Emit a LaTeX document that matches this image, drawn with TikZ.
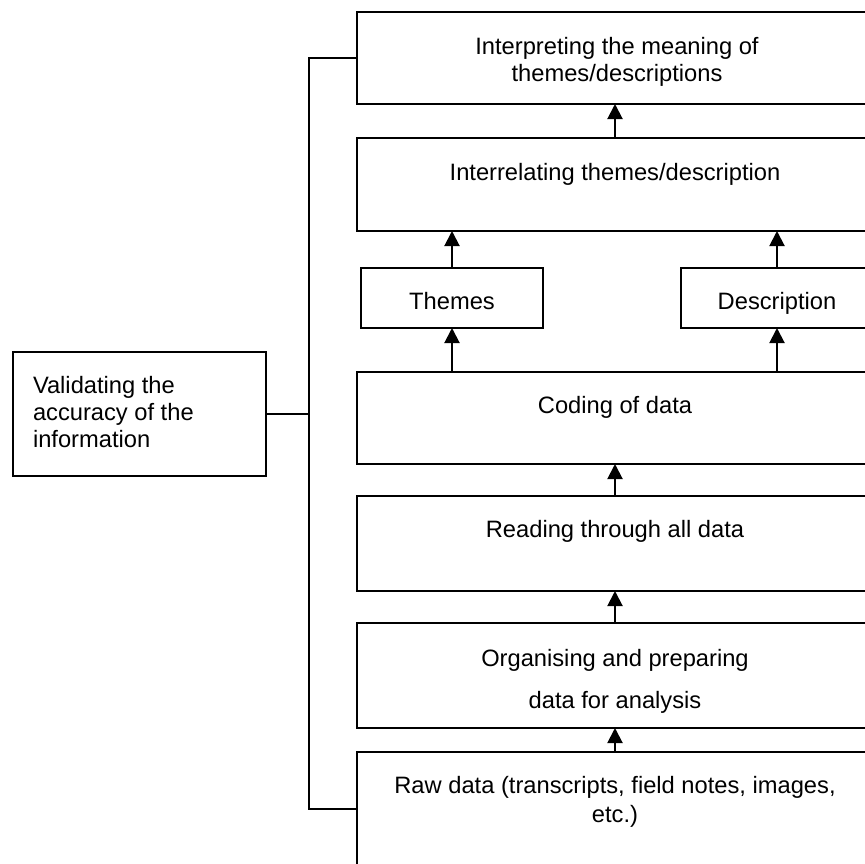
\documentclass[tikz,border=0pt]{standalone}
\usepackage{fontspec}
\setmainfont{Liberation Sans}
\usetikzlibrary{arrows.meta}

\begin{document}
\begin{tikzpicture}[x=1pt,y=-1pt,
  line width=2pt,
  box/.style={draw=black, rectangle, inner sep=0pt, outer sep=0pt, anchor=north west},
  txt/.style={inner sep=0pt, outer sep=0pt, anchor=base, font=\fontsize{23.7}{27}\selectfont},
  ltxt/.style={txt, anchor=base west},
  arr/.style={-{Triangle[width=15pt,length=15pt]}},
]
\useasboundingbox (0,0) rectangle (865,863);
\clip (0,0) rectangle (865,863);

% process boxes (they run on past the right and lower edges)
\node[box, minimum width=516pt, minimum height=92pt]  (interp) at (357,12)  {};
\node[box, minimum width=516pt, minimum height=93pt]  (inter)  at (357,138) {};
\node[box, minimum width=182pt, minimum height=60pt]  (themes) at (361,268) {};
\node[box, minimum width=192pt, minimum height=60pt]  (descr)  at (681,268) {};
\node[box, minimum width=516pt, minimum height=92pt]  (coding) at (357,372) {};
\node[box, minimum width=516pt, minimum height=95pt]  (reading) at (357,496) {};
\node[box, minimum width=516pt, minimum height=105pt] (organ)  at (357,623) {};
\node[box, minimum width=516pt, minimum height=114pt] (raw)    at (357,752) {};
\node[box, minimum width=253pt, minimum height=124pt] (valid)  at (13,352)  {};

% labels
\node[txt] (interp1) at (617,54)  {Interpreting the meaning of};
\node[txt] (interp2) at (617,81)  {themes/descriptions};
\node[txt] (inter1)  at (615,180) {Interrelating themes/description};
\node[txt] (themes1) at (452,309) {Themes};
\node[txt] (descr1)  at (777,309) {Description};
\node[txt] (coding1) at (615,413) {Coding of data};
\node[txt] (read1)   at (615,537) {Reading through all data};
\node[txt] (organ1)  at (615,666) {Organising and preparing};
\node[txt] (organ2)  at (615,708) {data for analysis};
\node[txt] (raw1)    at (615,793) {Raw data (transcripts, field notes, images,};
\node[txt] (raw2)    at (615,822) {etc.)};
\node[ltxt] (valid1) at (33,393)  {Validating the};
\node[ltxt] (valid2) at (33,420)  {accuracy of the};
\node[ltxt] (valid3) at (33,447)  {information};

% upward flow
\draw[arr] (raw.north) -- (organ.south);
\draw[arr] (organ.north) -- (reading.south);
\draw[arr] (reading.north) -- (coding.south);
\draw[arr] (coding.north -| themes.south) -- (themes.south);
\draw[arr] (coding.north -| descr.south) -- (descr.south);
\draw[arr] (themes.north) -- (themes.north |- inter.south);
\draw[arr] (descr.north) -- (descr.north |- inter.south);
\draw[arr] (inter.north) -- (interp.south);

% validation bracket
\coordinate (bus) at (309,414);
\draw (interp.west) -| (bus) |- (raw.west);
\draw (valid.east) -- (bus);
\end{tikzpicture}
\end{document}
